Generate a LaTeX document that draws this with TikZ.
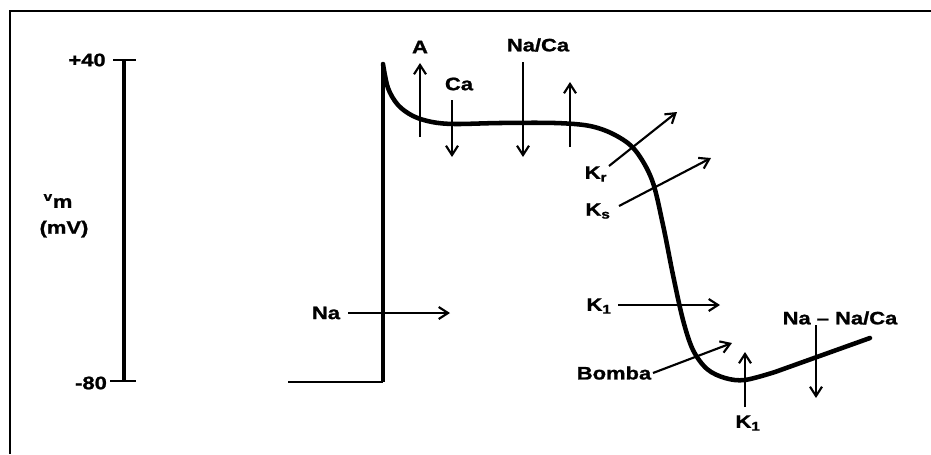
\documentclass[tikz,border=0pt]{standalone}
\usepackage{fontspec}
\newfontfamily\lab{Liberation Sans}[FakeStretch=1.22, FakeBold=1.2]
\usetikzlibrary{arrows.meta}
\begin{document}
\begin{tikzpicture}[x=0.75pt,y=-0.75pt,
  lbl/.style={font=\lab\bfseries\fontsize{13.5}{15}\selectfont, inner sep=0pt},
  arr/.style={-{Straight Barb[length=7pt,width=9pt,line width=1.6pt]}, line width=1.6pt},
  wave/.style={line width=3.4pt, line cap=round, line join=round},
  frame/.style={line width=2pt},
  axis/.style={line width=2.3pt},
  tick/.style={line width=1.6pt}]
\useasboundingbox (0,0) rectangle (931,454);
% frame
\draw[frame] (931,11) -- (10,11) -- (10,454);
% axis
\coordinate (at) at (124,60);
\coordinate (ab) at (124,381);
\draw[axis] (at) -- (ab);
\draw[tick] (113,60) -- (136,60);
\draw[tick] (110,381) -- (136,381);
\node[lbl] (p40) at (87,60) {+40};
\node[lbl] (m80) at (91,383) {-80};
\node[lbl] (vm) at (58,201) {\textsuperscript{v}m};
\node[lbl] (mv) at (64,229) {(mV)};
% action potential
\coordinate (b0) at (288,382);
\coordinate (b1) at (383,382);
\coordinate (b2) at (383,64);
\draw[line width=2pt] (b0) -- (b1);
\draw[line width=2.8pt] (b1) -- (b2);
\draw[wave] plot[smooth, tension=0.55] coordinates {(383,64) (388,88) (398,105) (413,116) (432,122) (455,124) (500,123) (555,123) (590,126) (615,135) (635,150) (652,180) (663,225) (673,275) (683,320) (693,350) (707,369) (725,378) (745,380) (775,372)} -- (870,338);
% Na
\node[lbl] (na) at (326,313) {Na};
\coordinate (na1) at (348,313);
\coordinate (na2) at (450,313);
\draw[arr] (na1) -- (na2);
% A
\node[lbl] (a) at (420,47) {A};
\coordinate (a1) at (420,137);
\coordinate (a2) at (420,63);
\draw[arr] (a1) -- (a2);
% Ca
\node[lbl] (ca) at (459,84) {Ca};
\coordinate (ca1) at (452,100);
\coordinate (ca2) at (452,157);
\draw[arr] (ca1) -- (ca2);
% Na/Ca
\node[lbl] (naca) at (538,45) {Na/Ca};
\coordinate (nc1) at (523,62);
\coordinate (nc2) at (523,157);
\draw[arr] (nc1) -- (nc2);
% unlabeled up arrow
\coordinate (u1) at (570,147);
\coordinate (u2) at (570,82);
\draw[arr] (u1) -- (u2);
% Kr
\node[lbl] (kr) at (596,174) {K\textsubscript{r}};
\coordinate (kr1) at (609,166);
\coordinate (kr2) at (677,112);
\draw[arr] (kr1) -- (kr2);
% Ks
\node[lbl] (ks) at (598,211) {K\textsubscript{s}};
\coordinate (ks1) at (619,206);
\coordinate (ks2) at (711,158);
\draw[arr] (ks1) -- (ks2);
% K1 horizontal
\node[lbl] (k1a) at (599,306) {K\textsubscript{1}};
\coordinate (k11) at (618,305);
\coordinate (k12) at (720,305);
\draw[arr] (k11) -- (k12);
% Bomba
\node[lbl] (bomba) at (614,373) {Bomba};
\coordinate (bo1) at (653,373);
\coordinate (bo2) at (732,343);
\draw[arr] (bo1) -- (bo2);
% K1 bottom
\node[lbl] (k1b) at (748,423) {K\textsubscript{1}};
\coordinate (kb1) at (745,407);
\coordinate (kb2) at (745,352);
\draw[arr] (kb1) -- (kb2);
% Na - Na/Ca
\node[lbl] (nanaca) at (840,318) {Na – Na/Ca};
\coordinate (nn1) at (816,325);
\coordinate (nn2) at (816,398);
\draw[arr] (nn1) -- (nn2);
\end{tikzpicture}
\end{document}
